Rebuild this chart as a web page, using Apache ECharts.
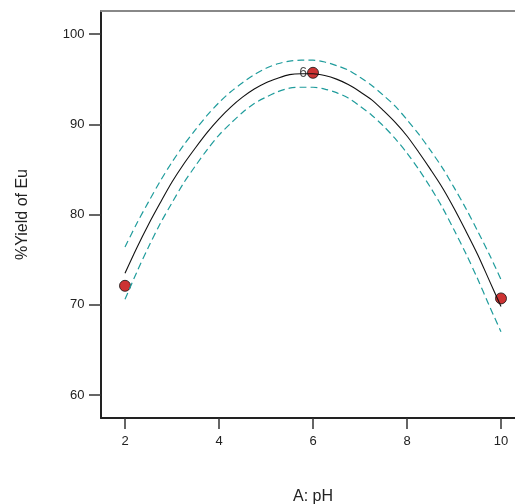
<!DOCTYPE html>
<html>
<head>
<meta charset="utf-8">
<script src="https://cdn.jsdelivr.net/npm/echarts@6/dist/echarts.min.js"></script>
<style>html,body{margin:0;padding:0;background:#fff;}#c{width:515px;height:504px;}</style>
</head>
<body>
<div id="c"></div>
<script>
// Tick labels
const xTicks = [2, 4, 6, 8, 10];
const yTicks = [60, 70, 80, 90, 100];
// Fitted curve and confidence band
const pHGrid = [2, 2.25, 2.5, 2.75, 3, 3.25, 3.5, 3.75, 4, 4.25, 4.5, 4.75, 5, 5.25, 5.5, 5.75, 6,
                6.25, 6.5, 6.75, 7, 7.25, 7.5, 7.75, 8, 8.25, 8.5, 8.75, 9, 9.25, 9.5, 9.75, 10];
const fitYield = [73.5, 76.3, 78.9, 81.3, 83.6, 85.6, 87.4, 89.1, 90.6, 91.9, 93.0, 93.9, 94.6, 95.1, 95.5, 95.6, 95.6,
                  95.4, 95.0, 94.4, 93.6, 92.7, 91.5, 90.2, 88.7, 86.9, 85.0, 83.0, 80.7, 78.2, 75.6, 72.7, 69.8];
const upperYield = [76.4, 79.0, 81.4, 83.7, 85.8, 87.7, 89.4, 91.0, 92.4, 93.6, 94.6, 95.5, 96.2, 96.7, 97.0, 97.1, 97.1,
                    96.9, 96.5, 96.0, 95.2, 94.3, 93.2, 92.0, 90.5, 88.9, 87.1, 85.2, 83.0, 80.7, 78.2, 75.6, 72.8];
const lowerYield = [70.6, 73.6, 76.4, 79.0, 81.3, 83.5, 85.4, 87.2, 88.8, 90.1, 91.3, 92.3, 93.0, 93.6, 94.0, 94.1, 94.1,
                    93.9, 93.5, 92.9, 92.0, 91.0, 89.8, 88.4, 86.8, 85.0, 83.0, 80.8, 78.3, 75.7, 72.9, 69.9, 67.0];
// Design points
const pointPH = [2, 6, 10];
const pointYield = [72.1, 95.7, 70.7];
const pointCount = ['', '6', ''];

const font = 'Liberation Sans, Arial, sans-serif';
const zip = (xs, ys) => xs.map((x, i) => [x, ys[i]]);

const chart = echarts.init(document.getElementById('c'), null, {renderer: 'canvas'});
chart.setOption({
  animation: false,
  backgroundColor: '#fff',
  grid: [
    {left: 101, top: 11, right: -10, bottom: 86, show: false, containLabel: false, outerBoundsMode: 'none'},
    {left: 125, top: 34, right: 14, bottom: 109, show: false, containLabel: false, outerBoundsMode: 'none'}
  ],
  xAxis: [
    {gridIndex: 0, type: 'value', min: 0, max: 1, position: 'bottom',
     axisLine: {show: true, onZero: false, lineStyle: {color: '#222', width: 2}},
     axisTick: {show: false}, axisLabel: {show: false}, splitLine: {show: false},
     name: 'A: pH', nameLocation: 'middle', nameGap: 71,
     nameTextStyle: {fontFamily: font, fontSize: 16, color: '#222'}},
    {gridIndex: 0, type: 'value', min: 0, max: 1, position: 'top',
     axisLine: {show: true, onZero: false, lineStyle: {color: '#888', width: 2}},
     axisTick: {show: false}, axisLabel: {show: false}, splitLine: {show: false}},
    {gridIndex: 1, type: 'value', min: xTicks[0], max: xTicks[xTicks.length - 1], interval: 2,
     position: 'bottom', offset: 23,
     axisLine: {show: false}, splitLine: {show: false},
     axisTick: {show: true, inside: false, length: 11, lineStyle: {color: '#333', width: 1.5}},
     axisLabel: {show: true, margin: 17, fontFamily: font, fontSize: 13, color: '#222'}}
  ],
  yAxis: [
    {gridIndex: 0, type: 'value', min: 0, max: 1, position: 'left',
     axisLine: {show: true, onZero: false, lineStyle: {color: '#222', width: 2}},
     axisTick: {show: false}, axisLabel: {show: false}, splitLine: {show: false},
     name: '%Yield of Eu', nameLocation: 'middle', nameGap: 70,
     nameTextStyle: {fontFamily: font, fontSize: 16, color: '#222'}},
    {gridIndex: 1, type: 'value', min: yTicks[0], max: yTicks[yTicks.length - 1], interval: 10,
     position: 'left', offset: 24,
     axisLine: {show: false}, splitLine: {show: false},
     axisTick: {show: true, inside: false, length: 12, lineStyle: {color: '#333', width: 1.5}},
     axisLabel: {show: true, margin: 16.5, fontFamily: font, fontSize: 13, color: '#222'}}
  ],
  series: [
    {type: 'line', xAxisIndex: 2, yAxisIndex: 1, data: zip(pHGrid, upperYield), smooth: 0.3,
     showSymbol: false, clip: false, lineStyle: {color: '#1f9c9c', width: 1.2, type: [7, 4]}},
    {type: 'line', xAxisIndex: 2, yAxisIndex: 1, data: zip(pHGrid, lowerYield), smooth: 0.3,
     showSymbol: false, clip: false, lineStyle: {color: '#1f9c9c', width: 1.2, type: [7, 4]}},
    {type: 'line', xAxisIndex: 2, yAxisIndex: 1, data: zip(pHGrid, fitYield), smooth: 0.3,
     showSymbol: false, clip: false, lineStyle: {color: '#111', width: 1.1}},
    {type: 'scatter', xAxisIndex: 2, yAxisIndex: 1, clip: false,
     data: pointPH.map((x, i) => ({value: [x, pointYield[i]], label: {show: pointCount[i] !== '', formatter: pointCount[i]}})),
     symbol: 'circle', symbolSize: 11,
     itemStyle: {color: '#c00000', borderColor: '#111', borderWidth: 1},
     label: {position: 'left', distance: 0, fontFamily: font, fontSize: 14, color: '#222'}}
  ]
});
</script>
</body>
</html>
